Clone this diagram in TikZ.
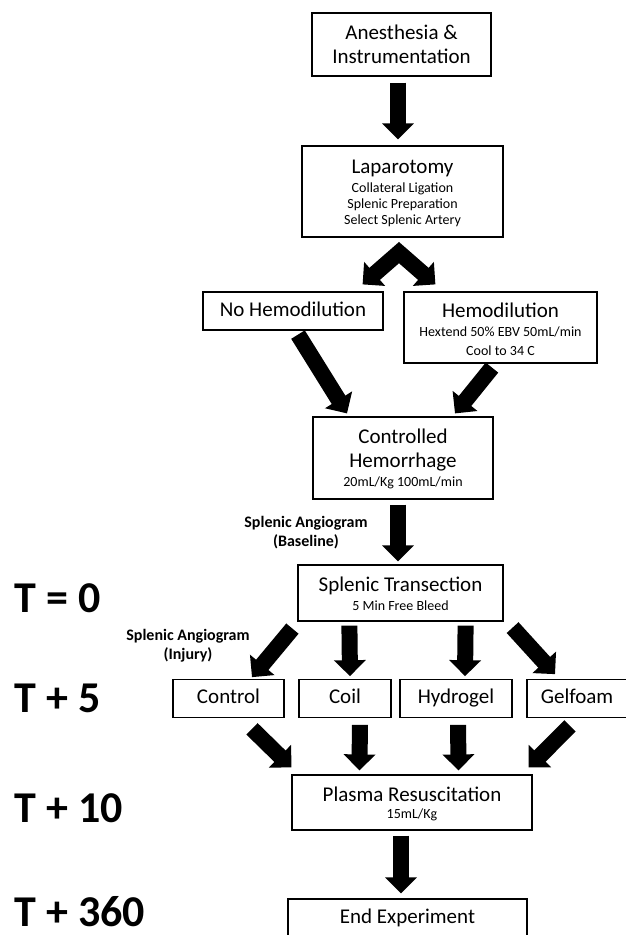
\documentclass[tikz,border=0pt]{standalone}
\usepackage{fontspec}
\setmainfont{Carlito}
\usetikzlibrary{arrows.meta,calc}

\newcommand{\bigtxt}{\fontsize{21}{24}\selectfont}
\newcommand{\subtxt}{\fontsize{14}{16}\selectfont}
\newcommand{\sublines}[1]{{\subtxt\begin{tabular}[t]{@{}c@{}}#1\end{tabular}}}
\newcommand{\lift}[1]{\rule{0pt}{#1}}

\begin{document}
\begin{tikzpicture}[x=1pt,y=-1pt,join=miter,
    >={Triangle[width=31pt,length=16pt]},
    box/.style={draw,line width=1.2pt,rectangle,inner sep=0pt,align=center,font=\bigtxt},
    cell/.style={draw,line width=1.2pt,rectangle,inner sep=0pt,font=\bigtxt,
      text height=15pt,text depth=5pt,minimum height=37.5pt},
    fat/.style={line width=16pt,->},
    tlabel/.style={anchor=base west,font=\fontsize{44}{48}\selectfont\bfseries},
    angio/.style={align=center,inner sep=0pt,font=\fontsize{16}{19}\selectfont\bfseries}]
  \useasboundingbox (0,0) rectangle (625,935);
  % boxes, top to bottom
  \node[box,minimum width=179pt,minimum height=63pt] (anes) at (401.5,44.5) {Anesthesia \&\\Instrumentation};
  \node[box,minimum width=201pt,minimum height=91pt] (lap) at (402.5,191.5)
    {\lift{20.5pt}Laparotomy\\[-5pt]\sublines{Collateral Ligation\\Splenic Preparation\\Select Splenic Artery}};
  \node[cell,minimum width=180pt,minimum height=38pt] (nohemo) at (293,311) {No Hemodilution};
  \node[box,minimum width=193pt,minimum height=71pt] (hemo) at (500.5,327.5)
    {\lift{22pt}Hemodilution\\[-5pt]\sublines{Hextend 50\% EBV 50mL/min\\[3pt]Cool to 34 C}};
  \node[box,minimum width=180pt,minimum height=82pt] (hemor) at (403,458)
    {\lift{18.5pt}Controlled\\Hemorrhage\\[-5pt]\sublines{20mL/Kg 100mL/min}};
  \node[box,minimum width=205pt,minimum height=56pt] (trans) at (400.5,593)
    {\lift{20.5pt}Splenic Transection\\[-5pt]\sublines{5 Min Free Bleed}};
  \node[cell,minimum width=111pt] (control) at (228.5,698.5) {Control};
  \node[cell,minimum width=92pt] (coil) at (345,698.5) {Coil};
  \node[cell,minimum width=112pt] (hydrogel) at (456,698.5) {Hydrogel};
  \node[cell,minimum width=100pt] (gelfoam) at (577,698.5) {Gelfoam};
  \node[box,minimum width=240pt,minimum height=55pt] (plasma) at (412,802.5)
    {\lift{20.5pt}Plasma Resuscitation\\[-7pt]\sublines{15mL/Kg}};
  \node[cell,minimum width=239pt,minimum height=38pt] (endexp) at (407.5,918) {End Experiment};
  % time marks
  \node[tlabel] (t0) at (11,612) {T = 0};
  \node[tlabel] (t5) at (11,712) {T + 5};
  \node[tlabel] (t10) at (11,822) {T + 10};
  \node[tlabel] (t360) at (11,926) {T + 360};
  % angiogram notes
  \node[angio] (angbase) at (306,533) {Splenic Angiogram\\(Baseline)};
  \node[angio] (anginj) at (188,646) {Splenic Angiogram\\(Injury)};
  % arrows
  \coordinate (split) at ($(lap.south)+(-3.5,15)$);
  \draw[fat] ($(anes.south)+(-3.5,6)$) -- ($(lap.north)+(-4.5,-6)$);
  \draw[fat,<->] ($(nohemo.north east)+(-21,-7)$) -- (split) -- ($(hemo.north west)+(32,-7)$);
  \draw[fat] ($(nohemo.south)+(5,4)$) -- ($(hemor.north)+(-56,-3)$);
  \draw[fat] ($(hemo.south)+(-8.5,4)$) -- ($(hemor.north)+(52,-3)$);
  \draw[fat] ($(hemor.south)+(-5,5)$) -- ($(trans.north)+(-2.5,-3)$);
  \draw[fat] ($(trans.south west)+(-5,7)$) -- ($(control.north)+(23.5,-2)$);
  \draw[fat] ($(trans.south west)+(52,4)$) -- ($(coil.north)+(5,-3)$);
  \draw[fat] ($(trans.south east)+(-38,4)$) -- ($(hydrogel.north)+(9,-3)$);
  \draw[fat] ($(trans.south east)+(9,6)$) -- ($(gelfoam.north)+(-22,-5)$);
  \draw[fat] ($(control.south)+(23.5,11)$) -- ($(plasma.north west)+(0,-7)$);
  \draw[fat] ($(coil.south)+(15,7)$) -- ($(plasma.north west)+(68,-4)$);
  \draw[fat] ($(hydrogel.south)+(2,7)$) -- ($(plasma.north east)+(-74,-4)$);
  \draw[fat] ($(gelfoam.south)+(-7,8)$) -- ($(plasma.north east)+(-4,-7)$);
  \draw[fat] ($(plasma.south)+(-11,5)$) -- ($(endexp.north)+(-6.5,-5)$);
\end{tikzpicture}
\end{document}
